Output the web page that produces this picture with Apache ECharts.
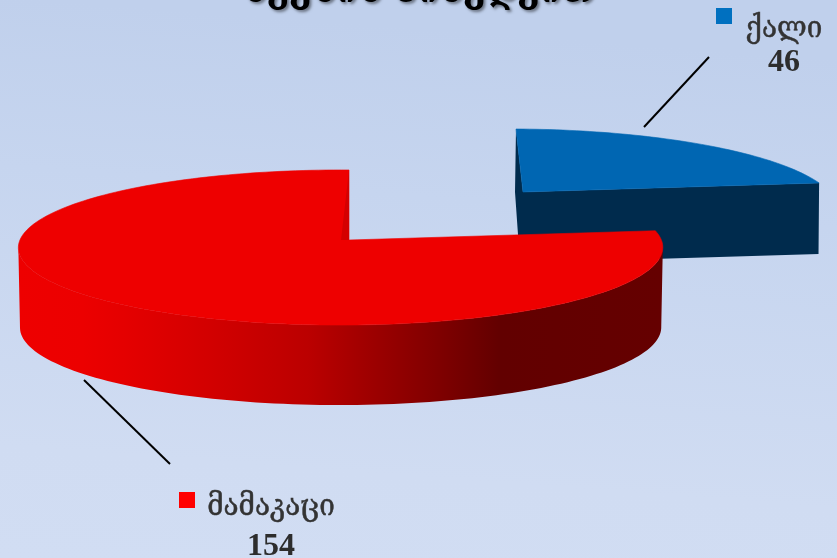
<!DOCTYPE html>
<html><head><meta charset="utf-8">
<style>html,body{margin:0;padding:0;width:837px;height:558px;overflow:hidden}#c{width:837px;height:558px}</style>
<script src="https://cdn.jsdelivr.net/npm/echarts@6/dist/echarts.min.js"></script>
</head><body><div id="c"></div>
<script>
const categories = ['ქალი', 'მამაკაცი'];
const values = [46, 154];
const titleText = 'სქესის მიხედვით';

const sliceStyle = [
  {tip:[523,192], rx:314.4, ry:75.6, k:0.2, m:0.025, skew:-8.4, h:71, taper:0.998,
   top:'#0066b2', wall:'#002b4d', inner:'#002b4d', key:'#0070c0',
   leader:[[644,127],[709,57]], keyBox:[716,8,16,16], textPos:[784,29], valPos:[784,63]},
  {tip:[349,240], rx:320.5, ry:76.8, k:0.0968, m:0.026, skew:0, h:80, taper:0.995,
   top:'#ee0000', wall:null, inner:'#d40000', key:'#ff0000',
   leader:[[84,380],[170,464]], keyBox:[179,492,16,16], textPos:[271,507], valPos:[271,547]}
];
const FONT_GE = '"DejaVu Serif","DejaVu Sans",serif';
const FONT_NUM = '"Liberation Serif",serif';
const total = values.reduce((a,b)=>a+b,0);

function project(s, deg){
  const t = deg*Math.PI/180, u = Math.sin(t), v = Math.cos(t), w = 1+s.k*v+s.m*u;
  return [s.tip[0]+(s.rx*u+s.skew*v)/w, s.tip[1]-s.ry*v/w];
}
function arcPts(s, a, b){
  const n = Math.max(4, Math.ceil(Math.abs(b-a)/1.5)), pts = [];
  for(let i=0;i<=n;i++) pts.push(project(s, a+(b-a)*i/n));
  return pts;
}
function drop(s, p){ return [s.tip[0]+(p[0]-s.tip[0])*s.taper, p[1]+s.h]; }

const redWallFill = {type:'linear',x:18,y:0,x2:662,y2:0,global:true,colorStops:[
  {offset:0,color:'#ee0000'},{offset:.1,color:'#ec0000'},{offset:.17,color:'#e40000'},{offset:.3,color:'#d20000'},
  {offset:.45,color:'#bb0000'},{offset:.54,color:'#a00000'},{offset:.65,color:'#800000'},{offset:.75,color:'#620000'},{offset:1,color:'#650000'}]};

function renderItem(params, api){
  const i = params.dataIndex, s = sliceStyle[i], val = api.value(0);
  let start = 0; for(let j=0;j<i;j++) start += values[j];
  const a = start/total*360, b = (start+val)/total*360;
  const children = [];
  const rim = arcPts(s, a, b);
  if(i===1){
    // outer wall runs between the rim's rightmost and leftmost points
    let iR = 0, iL = 0;
    rim.forEach((p,n)=>{ if(p[0]>rim[iR][0]) iR=n; if(p[0]<rim[iL][0]) iL=n; });
    const top = rim.slice(iR, iL+1), bot = top.map(p=>drop(s,p)).reverse();
    children.push({type:'polygon',shape:{points:top.concat(bot)},style:{fill:redWallFill},z2:1});
    const st = project(s, b), tipLeft = [s.tip[0]-8, s.tip[1]];
    children.push({type:'polygon',shape:{points:[st,s.tip,tipLeft]},style:{fill:s.inner},z2:4});
  } else {
    const st = project(s,a), end = project(s,b), endB = drop(s,end);
    const tipB = [s.tip[0]-3, s.tip[1]+s.h];
    children.push({type:'polygon',shape:{points:[st,s.tip,end,endB,tipB,[st[0]-1,st[1]+63]]},style:{fill:s.wall},z2:1});
  }
  children.push({type:'polygon',shape:{points:[s.tip].concat(rim)},style:{fill:s.top,stroke:s.top,lineWidth:0.6},z2:3});
  children.push({type:'line',shape:{x1:s.leader[0][0],y1:s.leader[0][1],x2:s.leader[1][0],y2:s.leader[1][1]},style:{stroke:'#000',lineWidth:2},z2:5});
  children.push({type:'rect',shape:{x:s.keyBox[0],y:s.keyBox[1],width:s.keyBox[2],height:s.keyBox[3]},style:{fill:s.key},z2:5});
  children.push({type:'text',x:s.textPos[0],y:s.textPos[1],scaleX:0.93,style:{text:categories[i],fill:'#333',stroke:'#333',lineWidth:0.5,font:'30px '+FONT_GE,align:'center',verticalAlign:'middle'},z2:5});
  children.push({type:'text',x:s.valPos[0],y:s.valPos[1],style:{text:String(val),fill:'#2d2d2d',font:'bold 32px '+FONT_NUM,align:'center',verticalAlign:'middle'},z2:5});
  return {type:'group',children};
}

const chart = echarts.init(document.getElementById('c'), null, {renderer:'canvas'});
chart.setOption({
  animation:false,
  backgroundColor:{type:'linear',x:0.05,y:0,x2:0,y2:1,colorStops:[
    {offset:0,color:'#c0d0ec'},{offset:.3,color:'#c6d5ef'},{offset:.8,color:'#d0dcf2'},{offset:1,color:'#d1ddf3'}]},
  title:{text:titleText,left:'center',top:-30,
    textStyle:{fontFamily:FONT_GE,fontWeight:'bold',fontSize:36,color:'#000',textShadowColor:'rgba(0,0,0,.45)',textShadowBlur:3,textShadowOffsetX:2,textShadowOffsetY:2}},
  series:[{type:'custom',coordinateSystem:'none',renderItem,clip:false,
    data:categories.map((c,i)=>({name:c,value:[values[i]]}))}]
});
</script></body></html>
